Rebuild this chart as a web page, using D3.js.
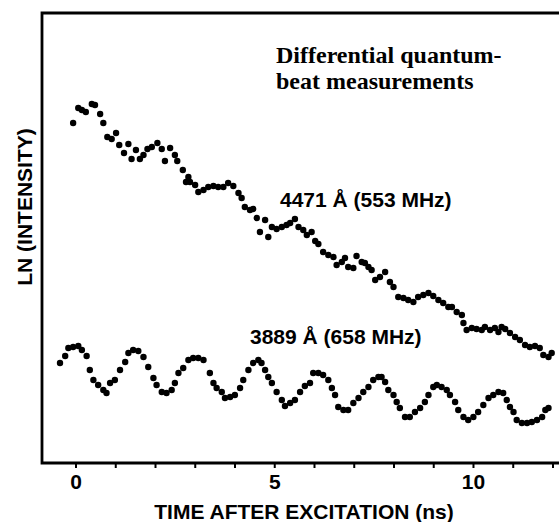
<!DOCTYPE html>
<html lang="en">
	<head>
		<meta charset="utf-8">
		<title>Differential quantum-beat measurements</title>
		<script type="text/javascript" src="https://cdn.jsdelivr.net/npm/d3@7"></script>
		<style type="text/css">
			body {
				margin: 0;
				background: white;
			}
			.x.axis path {
				display: none;
			}
			.x.axis line {
				stroke: black;
				stroke-width: 2px;
			}
			.x.axis text {
				font-family: "Liberation Sans", Arial, sans-serif;
				font-weight: bold;
				font-size: 21px;
				fill: black;
			}
			.label {
				font-family: "Liberation Sans", Arial, sans-serif;
				font-weight: bold;
				font-size: 21px;
				fill: black;
			}
			.title {
				font-family: "Liberation Serif", "Times New Roman", serif;
				font-weight: bold;
				font-size: 24px;
				fill: black;
			}
		</style>
	</head>
	<body>
		<script type="text/javascript">
			//Width and height
			var w = 559;
			var h = 522;

			//Time after excitation (ns) and ln(intensity), arbitrary units
			var timeA = [-0.06, 0.07, 0.16, 0.26, 0.41, 0.49, 0.62, 0.70, 0.80, 0.91, 1.02, 1.10, 1.22, 1.33, 1.41, 1.52, 1.62, 1.71, 1.81, 1.92,
				2.06, 2.17, 2.25, 2.38, 2.50, 2.56, 2.70, 2.78, 2.84, 2.88, 3.01, 3.09, 3.22, 3.34, 3.47, 3.59, 3.72, 3.84, 3.97, 4.10,
				4.18, 4.26, 4.39, 4.47, 4.56, 4.64, 4.77, 4.85, 4.94, 5.06, 5.19, 5.31, 5.40, 5.52, 5.61, 5.73, 5.82, 5.94, 6.03, 6.11,
				6.23, 6.36, 6.49, 6.57, 6.70, 6.78, 6.86, 6.99, 7.07, 7.20, 7.28, 7.37, 7.45, 7.54, 7.66, 7.79, 7.91, 8.00, 8.12, 8.25,
				8.37, 8.50, 8.62, 8.75, 8.88, 9.00, 9.13, 9.25, 9.38, 9.47, 9.59, 9.72, 9.76, 9.84, 9.97, 10.09, 10.22, 10.30, 10.43, 10.55,
				10.64, 10.72, 10.81, 10.93, 11.06, 11.18, 11.31, 11.43, 11.56, 11.68, 11.77, 11.90, 11.98];
			var lnA = [340, 355, 353, 351, 359, 358, 349, 340, 326, 324, 330, 318, 310, 319, 304, 313, 304, 308, 314, 316,
				320, 314, 302, 315, 308, 302, 293, 281, 286, 281, 278, 271, 273, 276, 277, 276, 276, 280, 277, 270,
				265, 256, 253, 254, 245, 231, 243, 226, 236, 234, 236, 238, 240, 244, 236, 233, 228, 231, 222, 219,
				211, 208, 206, 198, 201, 205, 196, 195, 207, 201, 200, 196, 193, 183, 186, 191, 181, 176, 166, 165,
				163, 161, 166, 168, 170, 167, 163, 160, 156, 156, 151, 148, 140, 133, 135, 134, 133, 136, 133, 135,
				131, 136, 134, 130, 126, 123, 118, 116, 117, 115, 108, 106, 110];

			var timeB = [-0.39, -0.26, -0.18, -0.06, 0.07, 0.16, 0.28, 0.36, 0.45, 0.57, 0.70, 0.78, 0.87, 0.99, 1.12, 1.25, 1.33, 1.45, 1.58, 1.71,
				1.83, 1.96, 2.04, 2.17, 2.29, 2.42, 2.50, 2.59, 2.71, 2.84, 2.96, 3.09, 3.22, 3.38, 3.47, 3.55, 3.68, 3.76, 3.89, 4.01,
				4.14, 4.22, 4.35, 4.47, 4.60, 4.68, 4.77, 4.85, 4.94, 5.06, 5.19, 5.27, 5.40, 5.52, 5.65, 5.77, 5.90, 5.98, 6.11, 6.23,
				6.36, 6.45, 6.53, 6.61, 6.74, 6.86, 6.99, 7.12, 7.24, 7.37, 7.49, 7.62, 7.70, 7.79, 7.87, 8.00, 8.08, 8.16, 8.29, 8.41,
				8.54, 8.67, 8.79, 8.88, 9.00, 9.09, 9.21, 9.34, 9.42, 9.55, 9.63, 9.76, 9.88, 10.01, 10.13, 10.26, 10.39, 10.51, 10.64, 10.76,
				10.85, 10.93, 11.02, 11.10, 11.23, 11.36, 11.48, 11.61, 11.74, 11.82, 11.90];
			var lnB = [100, 107, 115, 116, 117, 113, 107, 93, 83, 78, 73, 70, 80, 83, 93, 101, 110, 113, 112, 106,
				96, 85, 78, 71, 70, 73, 80, 90, 95, 103, 105, 105, 103, 90, 80, 75, 71, 65, 66, 68,
				75, 83, 93, 100, 103, 100, 93, 86, 80, 71, 63, 57, 60, 63, 71, 77, 80, 90, 90, 88,
				83, 75, 68, 56, 53, 53, 60, 65, 71, 76, 83, 86, 86, 81, 73, 68, 61, 55, 46, 46,
				51, 55, 61, 68, 76, 78, 76, 73, 68, 61, 53, 46, 43, 46, 51, 58, 65, 68, 71, 70,
				63, 56, 51, 43, 40, 40, 41, 43, 46, 53, 55];

			var tickValues = [0, 1, 2, 3, 4, 5, 6, 7, 8, 9, 10, 11, 12];
			var labelledTicks = [0, 5, 10];

			var seriesLabels = ["4471 Å (553 MHz)", "3889 Å (658 MHz)"];
			var titleLines = ["Differential quantum-", "beat measurements"];

			//Plot frame
			var frameLeft = 42, frameRight = 559, frameTop = 13, frameBottom = 463;

			var xScale = d3.scaleLinear()
				.domain([-0.843, 12.164])
				.range([frameLeft, frameRight]);

			var yScale = d3.scaleLinear()
				.domain([0, 450])
				.range([frameBottom, frameTop]);

			var xAxis = d3.axisBottom(xScale)
				.tickValues(tickValues)
				.tickSize(5)
				.tickSizeOuter(0)
				.tickPadding(6)
				.tickFormat(function(d) {
					return labelledTicks.indexOf(d) >= 0 ? d : "";
				});

			var svg = d3.select("body")
				.append("svg")
				.attr("width", w)
				.attr("height", h);

			svg.append("g")
				.attr("class", "x axis")
				.attr("transform", "translate(0," + frameBottom + ")")
				.call(xAxis);

			//Frame: left, top and bottom edges
			svg.append("path")
				.attr("d", "M" + frameRight + "," + frameTop + "H" + frameLeft + "V" + frameBottom + "H" + frameRight)
				.attr("fill", "none")
				.attr("stroke", "black")
				.attr("stroke-width", 2.8);

			var series = [
				d3.zip(timeA, lnA),
				d3.zip(timeB, lnB)
			];

			svg.selectAll("g.series")
				.data(series)
				.enter()
				.append("g")
				.attr("class", "series")
				.selectAll("circle")
				.data(function(d) { return d; })
				.enter()
				.append("circle")
				.attr("cx", function(d) { return xScale(d[0]); })
				.attr("cy", function(d) { return yScale(d[1]); })
				.attr("r", 3.2)
				.attr("fill", "black");

			//Series labels
			svg.append("text")
				.attr("class", "label")
				.attr("x", 280)
				.attr("y", 207)
				.text(seriesLabels[0]);

			svg.append("text")
				.attr("class", "label")
				.attr("x", 250)
				.attr("y", 344)
				.text(seriesLabels[1]);

			svg.selectAll("text.title")
				.data(titleLines)
				.enter()
				.append("text")
				.attr("class", "title")
				.attr("x", 276)
				.attr("y", function(d, i) { return 63 + i * 26; })
				.text(function(d) { return d; });

			//Axis titles
			svg.append("text")
				.attr("class", "label")
				.attr("x", 304)
				.attr("y", 519)
				.attr("text-anchor", "middle")
				.text("TIME AFTER EXCITATION (ns)");

			svg.append("text")
				.attr("class", "label")
				.attr("transform", "translate(32,207) rotate(-90)")
				.attr("text-anchor", "middle")
				.text("LN (INTENSITY)");
		</script>
	</body>
</html>
